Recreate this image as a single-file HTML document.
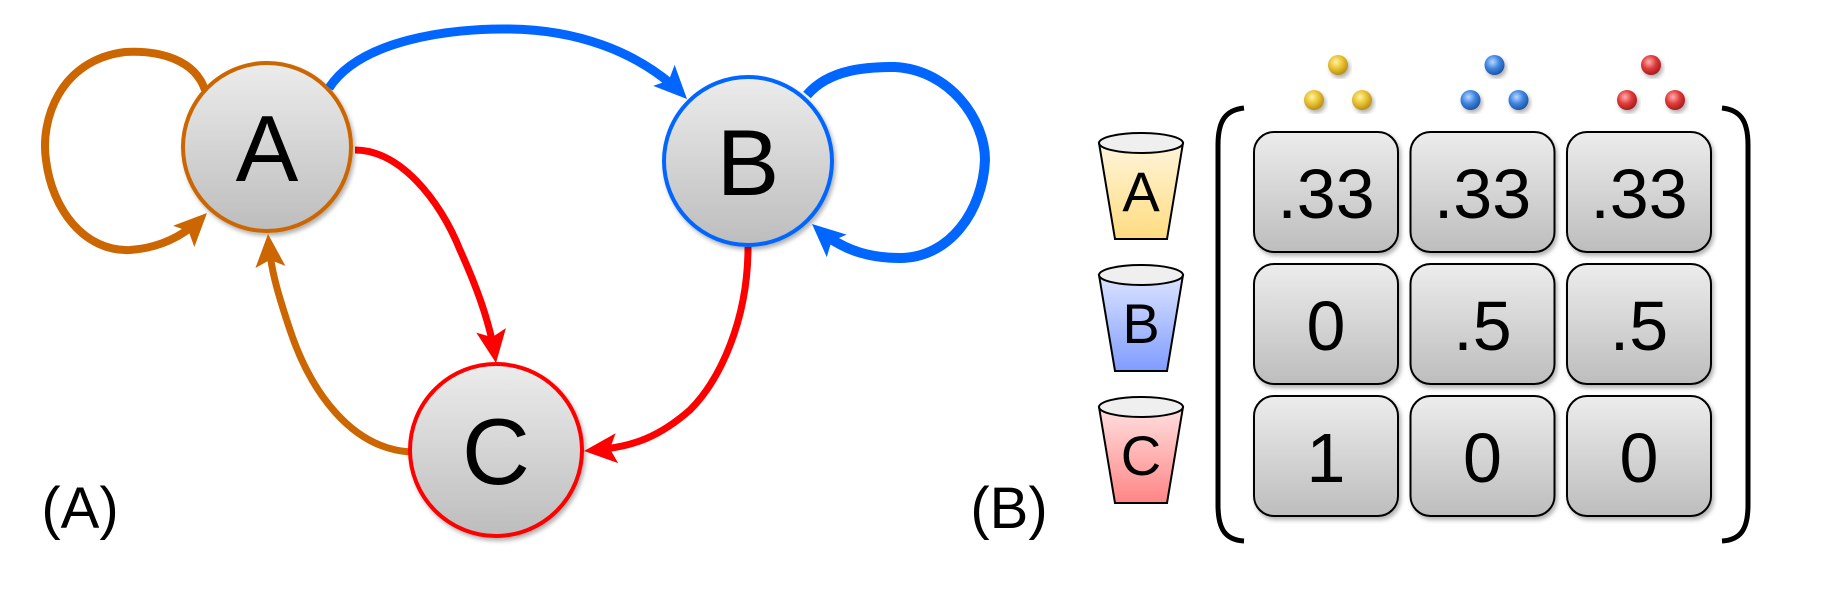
<!DOCTYPE html>
<html><head><meta charset="utf-8"><style>
html,body{margin:0;padding:0;background:#fff;}
svg{display:block;font-family:"Liberation Sans",sans-serif;}
</style></head><body>
<svg id="fig" width="1841" height="611" viewBox="0 0 1841 611">
<defs>
<linearGradient id="ng" x1="0" y1="0" x2="0" y2="1"><stop offset="0" stop-color="#ececec"/><stop offset="1" stop-color="#bdbdbd"/></linearGradient>
<linearGradient id="cy" x1="0" y1="0" x2="0" y2="1"><stop offset="0" stop-color="#fff5dc"/><stop offset="1" stop-color="#ffdc80"/></linearGradient>
<linearGradient id="cb" x1="0" y1="0" x2="0" y2="1"><stop offset="0" stop-color="#dce4ff"/><stop offset="1" stop-color="#809cff"/></linearGradient>
<linearGradient id="cr" x1="0" y1="0" x2="0" y2="1"><stop offset="0" stop-color="#ffe0e0"/><stop offset="1" stop-color="#ff8585"/></linearGradient>
<radialGradient id="by" cx="0.4" cy="0.35" r="0.7"><stop offset="0" stop-color="#fff3a0"/><stop offset="0.5" stop-color="#e8c030"/><stop offset="1" stop-color="#b08a10"/></radialGradient>
<radialGradient id="bb" cx="0.4" cy="0.35" r="0.7"><stop offset="0" stop-color="#b8d8ff"/><stop offset="0.5" stop-color="#3d84e0"/><stop offset="1" stop-color="#1a4f9c"/></radialGradient>
<radialGradient id="br" cx="0.4" cy="0.35" r="0.7"><stop offset="0" stop-color="#ffb0b0"/><stop offset="0.5" stop-color="#e03a3a"/><stop offset="1" stop-color="#9c1a1a"/></radialGradient>
<filter id="sh" x="-20%" y="-20%" width="140%" height="140%"><feDropShadow dx="2" dy="3" stdDeviation="2" flood-color="#000" flood-opacity="0.3"/></filter>
</defs>

<g id="edges" fill="none" stroke-linecap="butt">
<path class="edge" data-col="#cc6600" d="M205,90 C195,60 160,50 125,52 C60,60 40,120 46,160 C52,210 85,252 130,250 C160,248 185,236 207,213" stroke="#cc6600" stroke-width="8"/>
<path class="edge" data-col="#0066ff" d="M329,88 C360,40 450,28 510,29 C590,30 650,60 687,99" stroke="#0066ff" stroke-width="9"/>
<path class="edge" data-col="#ff0000" d="M355,150 C400,150 440,200 460,250 C485,305 492,335 496,363" stroke="#ff0000" stroke-width="7"/>
<path class="edge" data-col="#cc6600" d="M410,452 C350,448 310,390 290,330 C275,285 270,265 268,234" stroke="#cc6600" stroke-width="7"/>
<path class="edge" data-col="#ff0000" d="M748,247 C748,320 720,380 690,410 C650,445 620,448 584,451" stroke="#ff0000" stroke-width="7"/>
<path class="edge" data-col="#0066ff" d="M807,95 C830,68 870,67 895,67 C950,70 985,120 985,160 C983,210 950,258 900,258 C860,258 835,245 812,224" stroke="#0066ff" stroke-width="10"/>
</g>

<g><circle cx="267" cy="147" r="84" fill="url(#ng)" stroke="#cc6600" stroke-width="4" filter="url(#sh)"/><text x="267" y="181" font-size="94" text-anchor="middle">A</text></g>
<g><circle cx="748" cy="161" r="84" fill="url(#ng)" stroke="#0066ff" stroke-width="4" filter="url(#sh)"/><text x="748" y="195" font-size="94" text-anchor="middle">B</text></g>
<g><circle cx="496" cy="450" r="86" fill="url(#ng)" stroke="#ff0000" stroke-width="4" filter="url(#sh)"/><text x="496" y="484" font-size="94" text-anchor="middle">C</text></g>

<g id="heads"></g>

<text x="80" y="528" font-size="58" text-anchor="middle">(A)</text>
<text x="1009" y="528" font-size="58" text-anchor="middle">(B)</text>

<path d="M1244,108 C1226,110 1218,120 1218,145 L1218,505 C1218,530 1226,540 1244,541" fill="none" stroke="#000" stroke-width="5"/>
<path d="M1722,108 C1740,110 1748,120 1748,145 L1748,505 C1748,530 1740,540 1722,541" fill="none" stroke="#000" stroke-width="5"/>

<g id="matrix"></g>
</svg>
<script>
const rowLabels = ["A", "B", "C"];
const colBalls = ["yellow", "blue", "red"];
const row0 = [".33", ".33", ".33"];
const row1 = ["0", ".5", ".5"];
const row2 = ["1", "0", "0"];
const values = [row0, row1, row2];

const NS = "http://www.w3.org/2000/svg";
const g = document.getElementById("matrix");
function mk(tag, attrs, parent) { const e = document.createElementNS(NS, tag); for (const k in attrs) e.setAttribute(k, attrs[k]); (parent || g).appendChild(e); return e; }

const heads = document.getElementById("heads");
document.querySelectorAll("path.edge").forEach(p => {
  const L = p.getTotalLength();
  const tip = p.getPointAtLength(L);
  const back = p.getPointAtLength(L - 6);
  let dx = tip.x - back.x, dy = tip.y - back.y;
  const n = Math.hypot(dx, dy); dx /= n; dy /= n;
  const len = 33, hw = 15;
  const bx = tip.x - dx * len, by = tip.y - dy * len;
  p.setAttribute("stroke-dasharray", (L - 22) + " 10000");
  const h = mk("path", { d: `M${tip.x},${tip.y} L${bx - dy * hw},${by + dx * hw} L${tip.x - dx * 26},${tip.y - dy * 26} L${bx + dy * hw},${by - dx * hw} Z`, fill: p.getAttribute("data-col") }, heads);
  
  
});

const colX = i => 1254 + i * 156.5;
const rowY = j => 132 + j * 132;
const cupFill = ["url(#cy)", "url(#cb)", "url(#cr)"];
const ballFill = ["url(#by)", "url(#bb)", "url(#br)"];

rowLabels.forEach((lab, j) => {
  const y = rowY(j);
  const cup = mk("path", { d: `M1099,${y+11} L1115,${y+107} L1167,${y+107} L1183,${y+11} Z`, fill: cupFill[j], stroke: "#000", "stroke-width": 2 });
  
  
  const rim = mk("ellipse", { cx: 1141, cy: y + 11, rx: 42, ry: 10, fill: "#efefef", stroke: "#000", "stroke-width": 2 });
  
  
  const t = mk("text", { x: 1141, y: y + 79, "font-size": 56, "text-anchor": "middle" });
  t.textContent = lab;
  
  
});

colBalls.forEach((c, i) => {
  const cx = colX(i) + 84;
  [[0, 65], [-24, 100], [24, 100]].forEach(p => {
    const b = mk("circle", { cx: cx + p[0], cy: p[1], r: 10, fill: ballFill[i], filter: "url(#sh)" });
    
    
  });
});

values.forEach((row, j) => {
  row.forEach((v, i) => {
    const x = colX(i), y = rowY(j);
    const r = mk("rect", { x: x, y: y, width: 144, height: 120, rx: 20, fill: "url(#ng)", stroke: "#000", "stroke-width": 2, filter: "url(#sh)" });
    
    
    const t = mk("text", { x: x + 72, y: y + 86, "font-size": 70, "text-anchor": "middle" });
    t.textContent = v;
    
    
  });
});
</script>
</body></html>
